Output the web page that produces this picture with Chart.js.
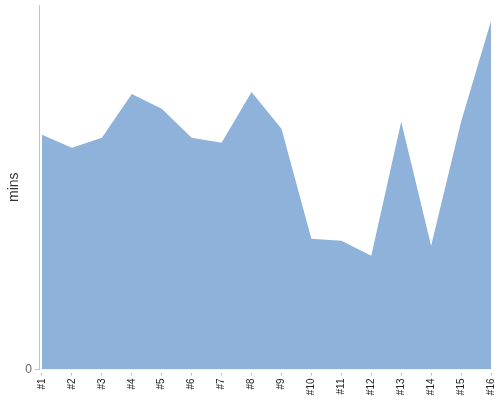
<!DOCTYPE html>
<html>
<head>
<meta charset="utf-8">
<script src="https://cdn.jsdelivr.net/npm/chart.js@4"></script>
<style>
  html, body { margin: 0; padding: 0; background: #fff; }
  #wrap { width: 500px; height: 400px; }
</style>
</head>
<body>
<div id="wrap"><canvas id="chart" width="500" height="400"></canvas></div>
<script>
// run labels and minutes per run
var runLabels = ['#1', '#2', '#3', '#4', '#5', '#6', '#7', '#8', '#9', '#10', '#11', '#12', '#13', '#14', '#15', '#16'];
var runMins = [23.5, 22.2, 23.2, 27.6, 26.1, 23.2, 22.7, 27.8, 24.1, 13.1, 12.9, 11.4, 24.8, 12.4, 24.8, 34.9];
var yTicks = [0];

var points = runMins.map(function (v, i) { return { x: i + 1, y: v }; });

var ctx = document.getElementById('chart').getContext('2d');

new Chart(ctx, {
  type: 'line',
  data: {
    datasets: [{
      data: points,
      fill: 'origin',
      backgroundColor: 'rgb(143,178,218)',
      borderWidth: 0,
      borderColor: 'rgba(0,0,0,0)',
      pointRadius: 0,
      tension: 0
    }]
  },
  options: {
    responsive: false,
    animation: false,
    layout: { padding: { top: 5, right: 9, left: 0, bottom: 0 } },
    plugins: { legend: { display: false }, tooltip: { enabled: false } },
    scales: {
      x: {
        type: 'linear',
        min: 0.9,
        max: 16,
        afterBuildTicks: function (s) {
          s.ticks = runLabels.map(function (l, i) { return { value: i + 1 }; });
        },
        afterFit: function (s) {
          s.height = 30.5;
          s.paddingLeft = 0;
          s.paddingRight = 0;
        },
        border: { display: false },
        grid: {
          drawOnChartArea: false,
          drawTicks: true,
          tickLength: 6,
          tickBorderDash: [0, 3, 3, 20],
          tickColor: '#bbbbbb'
        },
        ticks: {
          autoSkip: false,
          minRotation: 90,
          maxRotation: 90,
          padding: 3,
          color: '#222',
          font: { family: 'Liberation Sans, Arial, sans-serif', size: 10 },
          callback: function (v) { return runLabels[v - 1]; }
        }
      },
      y: {
        min: 0,
        max: 36.5,
        afterBuildTicks: function (s) {
          s.ticks = yTicks.map(function (v) { return { value: v }; });
        },
        afterFit: function (s) {
          s.width = 39;
          s.paddingTop = 0;
          s.paddingBottom = 0;
        },
        border: { display: true, color: '#c4c4c4', width: 1 },
        grid: {
          drawOnChartArea: false,
          drawTicks: true,
          tickLength: 4,
          tickColor: '#c4c4c4'
        },
        ticks: {
          padding: 3,
          color: '#666',
          font: { family: 'Liberation Sans, Arial, sans-serif', size: 12 }
        },
        title: {
          display: true,
          text: 'mins',
          color: '#333',
          padding: { top: 6, bottom: 0 },
          font: { family: 'Liberation Sans, Arial, sans-serif', size: 14 }
        }
      }
    }
  }
});
</script>
</body>
</html>
